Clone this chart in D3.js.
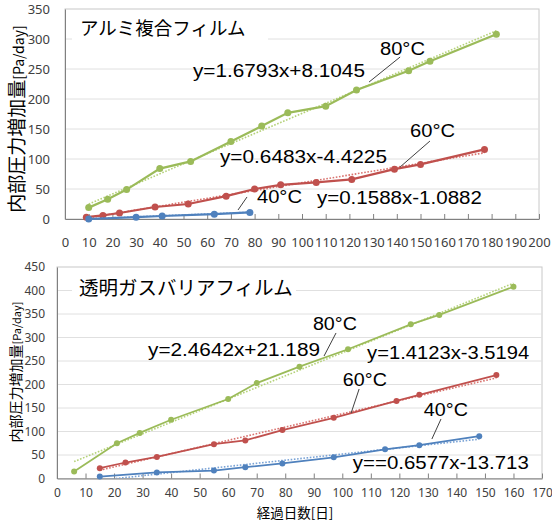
<!DOCTYPE html>
<meta charset="utf-8">
<script src="https://d3js.org/d3.v7.min.js"></script>
<style>
body{margin:0;background:#fff;}
svg text{font-family:"Liberation Sans",Arial,sans-serif;fill:#000;}
.tick text{font-family:"Noto Sans",sans-serif;fill:#404040;}
.jp{font-family:"Noto Sans CJK JP",sans-serif;}
</style>
<div id="chart"></div>
<script>
// アルミ複合フィルム  [day, Pa/day]
var alumi80 = [[10,19],[18,33],[26,49],[40,84],[53,96],[70,129],[83,155],[94,177],[110,188],[123,215],[145,247],[154,263],[182,308]];
var alumi60 = [[9,3],[16,6],[23,10],[38,20],[52,25],[68,38],[80,50],[91,57],[106,61],[121,66],[139,83],[150,91],[177,116]];
var alumi40 = [[10,0],[30,3],[41,5],[63,8],[78,11]];
var alumiFit = [[1.6793,8.1045],[0.6483,-4.4225],[0.1588,-1.0882]];
var alumiEq = ["y=1.6793x+8.1045","y=0.6483x-4.4225","y=0.1588x-1.0882"];

// 透明ガスバリアフィルム
var barrier80 = [[6,15],[21,75],[29,97],[40,125],[60,169],[70,203],[85,238],[102,275],[124,328],[134,348],[160,408]];
var barrier60 = [[15,22],[24,34],[35,46],[55,73],[66,81],[79,103],[97,129],[119,165],[127,178],[154,220]];
var barrier40 = [[15,4],[35,13],[55,17],[66,24],[79,32],[97,45],[115,62],[127,71],[148,90]];
var barrierFit = [[2.4642,21.189],[1.4123,-3.5194],[0.6577,-13.713]];
var barrierEq = ["y=2.4642x+21.189","y=1.4123x-3.5194","y==0.6577x-13.713"];

var temps = ["80°C","60°C","40°C"];
var colors = ["#9bbb59","#c0504d","#4f81bd"];
var trendColors = ["#b5d27a","#d9736f","#7aa3d6"];

var svg = d3.select("#chart").append("svg").attr("width",552).attr("height",526);

function drawPanel(p){
  var x = d3.scaleLinear().domain([0,p.xMax]).range([p.left,p.right]);
  var y = d3.scaleLinear().domain([0,p.yMax]).range([p.bottom,p.top]);
  var g = svg.append("g");

  // plot border + gridlines
  g.append("rect").attr("x",p.left).attr("y",p.top).attr("width",p.right-p.left).attr("height",p.bottom-p.top)
    .attr("fill","none").attr("stroke","#c8c8c8");
  g.selectAll(".grid").data(d3.range(50,p.yMax,50)).enter().append("line")
    .attr("x1",p.left).attr("x2",p.right).attr("y1",function(d){return y(d);}).attr("y2",function(d){return y(d);})
    .attr("stroke","#e0e0e0");

  // title with white box
  g.append("rect").attr("x",p.titleBox[0]).attr("y",p.titleBox[1]).attr("width",p.titleBox[2]).attr("height",p.titleBox[3]).attr("fill","#fff");
  g.append("text").attr("class","jp").attr("x",p.titleX).attr("y",p.titleY).attr("font-size",p.titleSize).text(p.title);

  // axes
  var xa = g.append("g").attr("transform","translate(0,"+p.bottom+")")
    .call(d3.axisBottom(x).tickValues(d3.range(0,p.xMax+1,10)).tickSize(-5).tickSizeOuter(0).tickPadding(p.xPad));
  xa.selectAll("text").attr("font-size",p.tickSize);
  xa.selectAll(".tick line").attr("stroke","#808080");
  xa.select(".domain").attr("stroke","#808080");
  xa.select(".tick line").remove();
  var ya = g.append("g").attr("transform","translate("+p.left+",0)")
    .call(d3.axisLeft(y).tickValues(d3.range(0,p.yMax+1,50)).tickSize(0).tickPadding(p.yPad));
  ya.selectAll("text").attr("font-size",p.tickSize);
  ya.select(".domain").attr("stroke","#808080");

  // axis titles
  var yt = g.append("text").attr("class","jp").attr("text-anchor","middle")
    .attr("transform","translate("+p.yTitle[0]+","+p.yTitle[1]+") rotate(-90)").attr("fill","#404040");
  yt.append("tspan").attr("font-size",p.yTitle[2]).text("内部圧力増加量");
  yt.append("tspan").attr("font-size",p.yTitle[3]).text("[Pa/day]");
  if (p.xTitle) {
    g.append("text").attr("class","jp").attr("text-anchor","middle").attr("x",p.xTitle[0]).attr("y",p.xTitle[1])
      .attr("font-size",p.xTitle[2]).attr("fill","#404040").text("経過日数[日]");
  }

  var clipId = "clip"+p.id;
  svg.append("clipPath").attr("id",clipId).append("rect")
    .attr("x",p.left).attr("y",p.top).attr("width",p.right-p.left).attr("height",p.bottom-p.top);

  var line = d3.line().x(function(d){return x(d[0]);}).y(function(d){return y(d[1]);});

  p.series.forEach(function(s,i){
    var fit = p.fit[i];
    var x0 = d3.min(s,function(d){return d[0];}), x1 = d3.max(s,function(d){return d[0];});
    g.append("line").attr("clip-path","url(#"+clipId+")")
      .attr("x1",x(x0)).attr("y1",y(fit[0]*x0+fit[1]))
      .attr("x2",x(x1)).attr("y2",y(fit[0]*x1+fit[1]))
      .attr("stroke",trendColors[i]).attr("stroke-width",1.6).attr("stroke-dasharray","1.6,1.6");
    g.append("path").datum(s).attr("d",line).attr("fill","none")
      .attr("stroke",colors[i]).attr("stroke-width",p.lineW);
    g.selectAll(".pt"+i).data(s).enter().append("circle")
      .attr("cx",function(d){return x(d[0]);}).attr("cy",function(d){return y(d[1]);})
      .attr("r",p.dotR).attr("fill",colors[i]);
  });

  // leader lines and labels (positions in data units)
  p.leaders.forEach(function(l){
    g.append("line").attr("x1",x(l[0])).attr("y1",y(l[1])).attr("x2",x(l[2])).attr("y2",y(l[3]))
      .attr("stroke","#404040").attr("stroke-width",1);
  });
  p.labels.forEach(function(l){
    g.append("text").attr("x",x(l.x)).attr("y",y(l.y)).attr("font-size",18)
      .attr("textLength",l.len).attr("lengthAdjust","spacingAndGlyphs").text(l.text);
  });
}

drawPanel({
  id:1, left:65, right:539, top:9, bottom:219, xMax:200, yMax:350,
  series:[alumi80,alumi60,alumi40], fit:alumiFit,
  title:"アルミ複合フィルム", titleX:80, titleY:35, titleSize:18.5, titleBox:[72,13,196,31],
  tickSize:13, xPad:19, yPad:15, lineW:2.25, dotR:3.5,
  yTitle:[24,119,19,14],
  leaders:[[141.4,270,128.3,228.3],[154,130,141.4,86.7],[76.8,36.7,73,15]],
  labels:[
    {text:alumiEq[0], x:54, y:237, len:172},
    {text:alumiEq[1], x:65.4, y:93, len:167},
    {text:alumiEq[2], x:106.3, y:25, len:165},
    {text:temps[0], x:132.9, y:273.3, len:45},
    {text:temps[1], x:145.6, y:136.7, len:45},
    {text:temps[2], x:81, y:27, len:45}
  ]
});

drawPanel({
  id:2, left:57, right:542, top:267, bottom:478.5, xMax:170, yMax:450,
  series:[barrier80,barrier60,barrier40], fit:barrierFit,
  title:"透明ガスバリアフィルム", titleX:79, titleY:295, titleSize:19.5, titleBox:[72,276,224,28],
  tickSize:12, xPad:10, yPad:12, lineW:1.75, dotR:3,
  yTitle:[21,372,14,11], xTitle:[295,518,13.5],
  leaders:[[97.8,309.6,93.6,260.6],[105.9,190.4,103.1,139.4],[134.6,126.6,131.4,84]],
  labels:[
    {text:barrierEq[0], x:31.9, y:260.6, len:172},
    {text:barrierEq[1], x:108.7, y:254, len:162},
    {text:barrierEq[2], x:103.7, y:20.2, len:176},
    {text:temps[0], x:89.7, y:316, len:44},
    {text:temps[1], x:100.2, y:196.8, len:44},
    {text:temps[2], x:128.6, y:133, len:44}
  ]
});
</script>
